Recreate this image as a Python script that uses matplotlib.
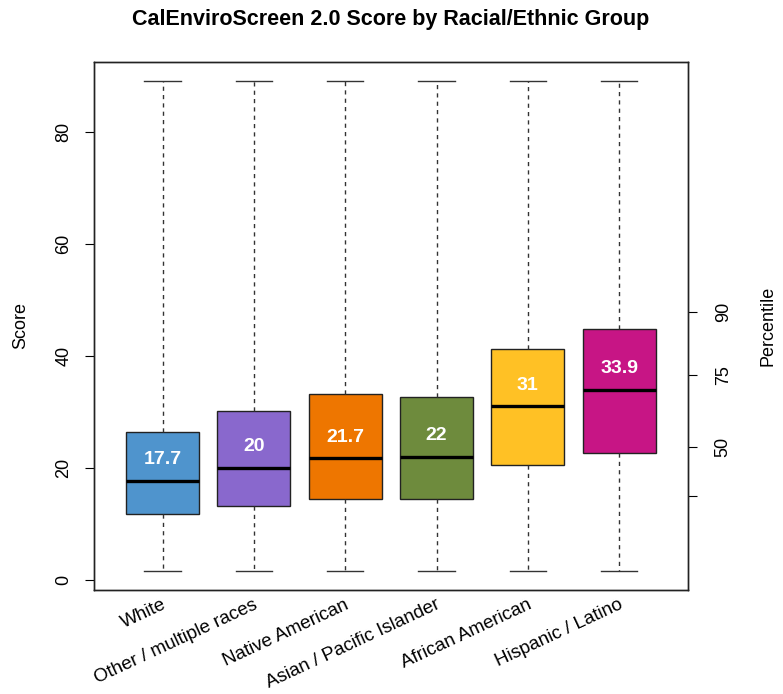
import numpy as np
import matplotlib.pyplot as plt

plt.rcParams['font.family'] = ['Liberation Sans', 'DejaVu Sans']

groups = ['White', 'Other / multiple races', 'Native American',
          'Asian / Pacific Islander', 'African American', 'Hispanic / Latino']
medians = [17.7, 20.0, 21.7, 22.0, 31.0, 33.9]
q1 = [11.7, 13.3, 14.5, 14.5, 20.5, 22.75]
q3 = [26.4, 30.1, 33.2, 32.6, 41.3, 44.85]
whislo = [1.66] * 6
whishi = [89.2] * 6
colors = ['#4F94CD', '#8968CD', '#EE7600', '#6E8B3D', '#FFC125', '#C71585']

# percentile reference points on the score scale
pct_scores = [47.9, 36.6, 23.8, 15.0]
pct_labels = ['90', '75', '50', '']

stats = []
for i in range(len(groups)):
    stats.append({'med': medians[i], 'q1': q1[i], 'q3': q3[i],
                  'whislo': whislo[i], 'whishi': whishi[i], 'fliers': []})

fig = plt.figure(figsize=(7.83, 6.94), dpi=100)
ax = fig.add_axes([94 / 783, 104 / 694, 593.7 / 783, 528.3 / 694])

pos = np.arange(1, len(groups) + 1)
bp = ax.bxp(stats, positions=pos, widths=0.8, patch_artist=True,
            showfliers=False,
            boxprops=dict(edgecolor='#222222', linewidth=1.0),
            medianprops=dict(color='black', linewidth=2.4, solid_capstyle='butt'),
            whiskerprops=dict(color='#333333', linewidth=1.0, linestyle=(0, (3, 3))),
            capprops=dict(color='#333333', linewidth=1.0),
            capwidths=0.4)
for patch, c in zip(bp['boxes'], colors):
    patch.set_facecolor(c)

for i, m in enumerate(medians):
    ax.text(pos[i], m + 3.8, f'{m:g}', color='white', fontsize=14,
            fontweight='bold', ha='center', va='center')

ax.set_xlim(0.25, 6.75)
ax.set_ylim(-1.79, 92.56)
ax.set_yticks([0, 20, 40, 60, 80])
ax.tick_params(axis='y', length=6.5, width=0.8, pad=9, labelsize=13,
               labelrotation=90)
for lab in ax.get_yticklabels():
    lab.set_va('center')
ax.set_xticks([])
ax.set_ylabel('Score', fontsize=13, labelpad=19)

trans = ax.get_xaxis_transform()
for i, g in enumerate(groups):
    ax.text(pos[i] + 0.03, -0.026, g, transform=trans, rotation=25,
            rotation_mode='anchor', ha='right', va='center', fontsize=13.5)

ax2 = ax.twinx()
ax2.set_ylim(ax.get_ylim())
ax2.set_yticks(pct_scores)
ax2.set_yticklabels(pct_labels)
ax2.tick_params(axis='y', length=6.5, width=0.8, pad=13, labelsize=13,
                labelrotation=90)
for lab in ax2.get_yticklabels():
    lab.set_va('center')
ax2.set_ylabel('Percentile', fontsize=13, labelpad=20, rotation=90)

for a in (ax, ax2):
    for s in a.spines.values():
        s.set_linewidth(1.0)
        s.set_color('#222222')

fig.text(ax.get_position().x0 + ax.get_position().width / 2, 1 - 19 / 694,
         'CalEnviroScreen 2.0 Score by Racial/Ethnic Group',
         fontsize=15.5, fontweight='bold', ha='center', va='center')

fig.savefig('out.png', dpi=100)
